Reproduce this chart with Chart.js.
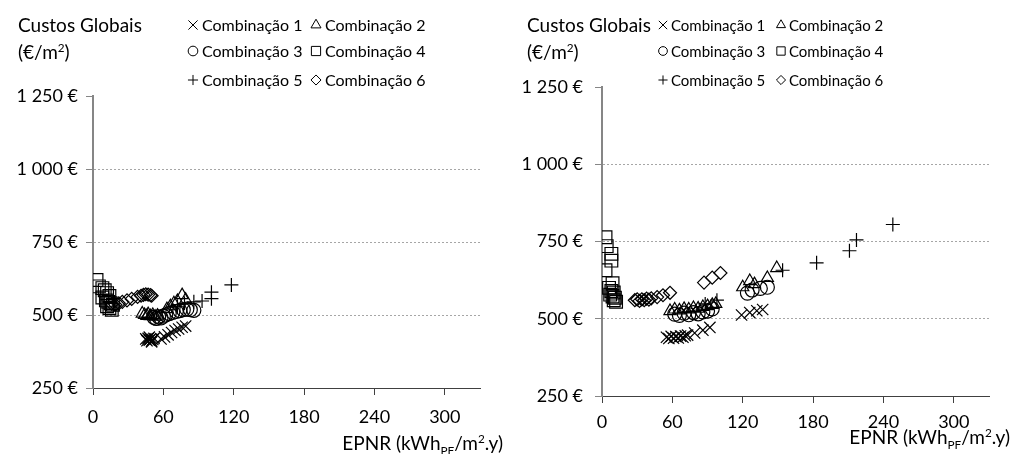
<!DOCTYPE html>
<html lang="pt">
<head>
<meta charset="utf-8">
<title>Custos globais vs EPNR</title>
<script src="https://cdn.jsdelivr.net/npm/chart.js@4.4.1/dist/chart.umd.min.js"></script>
<style>
  html, body { margin: 0; padding: 0; background: #fff; }
  body { width: 1014px; height: 454px; position: relative; overflow: hidden;
         font-family: Lato, "Open Sans", sans-serif; color: #000; }
  .panel { position: absolute; top: 0; width: 507px; height: 454px; }
  .panel canvas { position: absolute; left: 0; top: 0; }
  .ytitle { position: absolute; font-size: 19px; line-height: 27px; white-space: nowrap; }
  .xtitle { position: absolute; right: 4px; font-size: 19px; line-height: 22px; white-space: nowrap; }
  sup, sub { font-size: 0.62em; line-height: 0; }
</style>
</head>
<body>

<div class="panel" style="left:0">
  <canvas id="chart-left" width="507" height="454"></canvas>
  <div class="ytitle" style="left:18px; top:11px">Custos Globais<br>(€/m<sup>2</sup>)</div>
  <div class="xtitle" style="top:432px">EPNR (kWh<sub>PF</sub>/m<sup>2</sup>.y)</div>
</div>

<div class="panel" style="left:507px">
  <canvas id="chart-right" width="507" height="454"></canvas>
  <div class="ytitle" style="left:20px; top:11px">Custos Globais<br>(€/m<sup>2</sup>)</div>
  <div class="xtitle" style="top:426px">EPNR (kWh<sub>PF</sub>/m<sup>2</sup>.y)</div>
</div>

<script>
// ---- series: [EPNR, custo global] ----
const comboLabels = ['Combinação 1', 'Combinação 2', 'Combinação 3',
                     'Combinação 4', 'Combinação 5', 'Combinação 6'];
const xTicks = [0, 60, 120, 180, 240, 300];
const yTicks = [250, 500, 750, 1000, 1250];

const leftC1 = [[45,418],[46,412],[47,420],[48,414],[49,418],[50,411],[51,416],[52,420],[48,424],[50,408],
                [58,418],[61,425],[64,432],[67,440],[70,447],[73,452],[76,458],[79,462]];
const leftC2 = [[42,505],[44,500],[46,497],[47,503],[49,496],[51,500],[53,494],[55,498],
                [63,520],[66,530],[69,540],[72,548],[79,552],[76,568]];
const leftC3 = [[52,492],[54,488],[56,494],[58,490],[60,496],[62,500],[65,505],[68,509],
                [71,512],[74,515],[77,518],[80,520],[83,518],[86,516]];
const leftC4 = [[3,620],[5,598],[8,592],[10,585],[12,575],[14,565],[8,560],[11,550],
                [13,545],[15,540],[17,535],[12,530],[14,524],[16,518]];
const leftC5 = [[72,530],[78,540],[86,545],[93,548],[101,556],[101,578],[118,603]];
const leftC6 = [[16,538],[19,535],[22,540],[25,545],[29,550],[33,555],[38,562],[41,566],
                [43,569],[45,571],[47,570],[49,568],[50,566]];

const rightC1 = [[55,440],[57,436],[59,443],[61,437],[63,442],[65,438],[67,444],[69,440],[71,445],[73,447],
                 [79,454],[86,463],[92,472],[119,512],[126,520],[132,526],[137,530]];
const rightC2 = [[58,525],[62,530],[66,527],[70,532],[74,530],[78,535],[82,533],[86,538],[90,541],
                 [94,545],[97,548],[120,602],[126,622],[130,612],[141,632],[149,664]];
const rightC3 = [[62,515],[66,511],[70,518],[74,513],[78,520],[82,516],[86,522],[90,525],[94,532],
                 [124,583],[128,593],[135,598],[141,602]];
const rightC4 = [[3,764],[4,735],[8,710],[8,688],[3,657],[9,615],[6,600],[8,590],[10,585],
                 [7,578],[9,572],[11,568],[10,560],[12,555]];
const rightC5 = [[88,548],[98,560],[154,657],[183,681],[211,720],[217,755],[248,805]];
const rightC6 = [[28,560],[30,563],[32,558],[34,563],[36,560],[38,565],[40,562],[42,566],
                 [47,570],[52,576],[58,584],[87,617],[94,633],[101,648]];

// ---- marker look ----
const FONT = 'Lato, "Open Sans", sans-serif';
const markerStyles = ['crossRot', 'triangle', 'circle', 'rect', 'cross', 'rectRot'];
const markerRadius = [8, 7, 7, 9, 7, 6.5];
const legendRadius = [6.2, 5.5, 4.6, 6.2, 4.8, 4.8];

const euro = v => String(v).replace(/\B(?=(\d{3})+(?!\d))/g, ' ') + ' €';

// legend in two columns / three rows, drawn with the datasets' own point styles
const comboLegend = {
  id: 'comboLegend',
  afterDraw(chart, args, opts) {
    const { ctx } = chart;
    ctx.save();
    ctx.font = `${opts.fontSize}px ${FONT}`;
    ctx.textBaseline = 'middle';
    chart.data.datasets.forEach((ds, i) => {
      const mx = opts.markerX[i % 2];
      const my = opts.rowY[Math.floor(i / 2)];
      ctx.strokeStyle = '#000';
      ctx.fillStyle = 'rgba(0,0,0,0)';
      ctx.lineWidth = 1;
      Chart.helpers.drawPoint(ctx, {
        pointStyle: ds.pointStyle,
        radius: legendRadius[i] * opts.scale,
        borderWidth: 1,
      }, mx, my);
      ctx.fillStyle = '#000';
      ctx.fillText(ds.label, mx + opts.gap, my + 1);
    });
    ctx.restore();
  }
};

function buildChart(id, series, frame) {
  const datasets = series.map((pts, i) => ({
    label: comboLabels[i],
    data: pts.map(([x, y]) => ({ x, y })),
    pointStyle: markerStyles[i],
    pointRadius: markerRadius[i],
    pointHoverRadius: markerRadius[i],
    borderColor: '#000',
    backgroundColor: 'rgba(0,0,0,0)',
    pointBorderWidth: 1.2,
    showLine: false,
  }));

  return new Chart(document.getElementById(id), {
    type: 'scatter',
    data: { datasets },
    options: {
      responsive: false,
      animation: false,
      events: [],
      layout: { padding: { top: frame.top, right: frame.right, bottom: 0, left: 0 } },
      plugins: {
        legend: { display: false },
        tooltip: { enabled: false },
        comboLegend: frame.legend,
      },
      scales: {
        x: {
          type: 'linear', min: 0, max: 330,
          afterBuildTicks: s => { s.ticks = xTicks.map(v => ({ value: v })); },
          afterFit: s => { s.height = frame.xAxisHeight; },
          ticks: { color: '#000', font: { family: FONT, size: 18 }, padding: frame.xTickPad, maxRotation: 0 },
          grid: { drawOnChartArea: false, tickLength: 7, tickColor: '#404040' },
          border: { color: '#404040', width: 1 },
        },
        y: {
          type: 'linear', min: 250, max: 1250,
          afterBuildTicks: s => { s.ticks = yTicks.map(v => ({ value: v })); },
          afterFit: s => { s.width = frame.yAxisWidth; },
          ticks: { color: '#000', font: { family: FONT, size: 18 }, padding: frame.yTickPad, callback: v => euro(v) },
          grid: {
            color: c => (c.tick && (c.tick.value === 250 || c.tick.value === 1250)) ? 'rgba(0,0,0,0)' : '#a6a6a6',
            lineWidth: 1,
            tickColor: '#868686',
            tickLength: 7,
          },
          border: { color: '#868686', width: 2, dash: [2, 2] },
        },
      },
    },
    plugins: [comboLegend],
  });
}

buildChart('chart-left', [leftC1, leftC2, leftC3, leftC4, leftC5, leftC6], {
  top: 96, right: 27, yAxisWidth: 93, xAxisHeight: 66, xTickPad: 11, yTickPad: 8,
  legend: { markerX: [193, 316], rowY: [25, 51, 80], fontSize: 16, gap: 9, scale: 1.05 },
});

buildChart('chart-right', [rightC1, rightC2, rightC3, rightC4, rightC5, rightC6], {
  top: 87, right: 25, yAxisWidth: 95, xAxisHeight: 58, xTickPad: 8, yTickPad: 12,
  legend: { markerX: [156, 274], rowY: [25, 51, 80], fontSize: 15, gap: 8, scale: 0.95 },
});
</script>
</body>
</html>
